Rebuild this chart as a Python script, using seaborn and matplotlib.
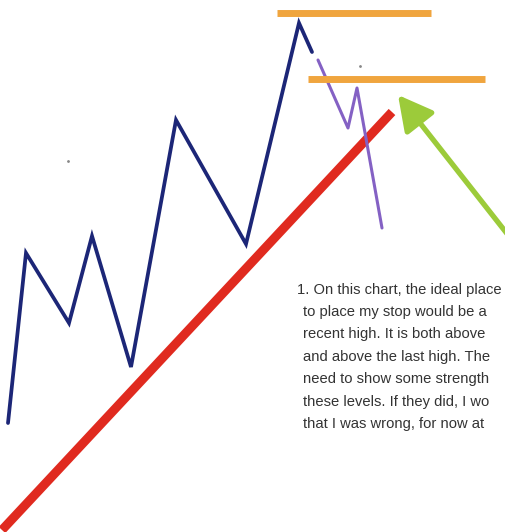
import matplotlib
matplotlib.use("Agg")
import matplotlib.pyplot as plt
import seaborn as sns
import pandas as pd

# price path (pixel-ish coordinates, y grows downward)
zig_x = [8, 26, 69, 92, 131, 176, 246, 299, 312]
zig_y = [423, 253, 323, 236, 367, 120, 244, 23, 52]

# projected move after the top
proj_x = [318, 348, 357, 382]
proj_y = [60, 128, 88, 228]

# trend line
trend_x = [2, 392]
trend_y = [530, 112]

# resistance levels
level_y = [13, 79]
level_x0 = [277, 308]
level_x1 = [431, 485]

# the note, as far as it is visible in the cropped picture
note_lines = [
    "1. On this chart, the ideal place",
    "to place my stop would be a",
    "recent high. It is both above",
    "and above the last high. The",
    "need to show some strength",
    "these levels. If they did, I wo",
    "that I was wrong, for now at",
]

sns.set_style("white")
plt.rcParams['font.family'] = ['Liberation Sans', 'DejaVu Sans']

fig = plt.figure(figsize=(5.06, 5.32), dpi=100)
ax = fig.add_axes([0, 0, 1, 1])

zig = pd.DataFrame({"x": zig_x, "y": zig_y})
proj = pd.DataFrame({"x": proj_x, "y": proj_y})
trend = pd.DataFrame({"x": trend_x, "y": trend_y})

sns.lineplot(data=trend, x="x", y="y", ax=ax, color="#e02a1f", lw=6.5,
             sort=False, solid_capstyle="butt")
sns.lineplot(data=zig, x="x", y="y", ax=ax, color="#1c2677", lw=2.7,
             sort=False, solid_joinstyle="miter")
sns.lineplot(data=proj, x="x", y="y", ax=ax, color="#8461c4", lw=2.2,
             sort=False)

for y, a, b in zip(level_y, level_x0, level_x1):
    ax.plot([a, b], [y, y], color="#f0a53e", lw=5, solid_capstyle="butt")

# green arrow pointing at the stop level
ax.annotate("", xy=(398, 95), xytext=(512, 240),
            arrowprops=dict(arrowstyle="-|>,head_length=1.5,head_width=0.8",
                            color="#9ccb3a", lw=3.8, mutation_scale=14,
                            shrinkA=0, shrinkB=0))

# stray specks in the scan
ax.plot([68, 360], [161, 66], ls="none", marker=".", ms=2, color="#888888")

# note text
ax.text(297, 290, note_lines[0], fontsize=10.6, color="#333333", va="center",
        ha="left")
for i, line in enumerate(note_lines[1:]):
    ax.text(303, 312 + i * 22.4, line, fontsize=10.6, color="#333333",
            va="center", ha="left")

ax.set_xlim(0, 506)
ax.set_ylim(532, 0)
ax.axis("off")

plt.savefig("out.png", dpi=100)
